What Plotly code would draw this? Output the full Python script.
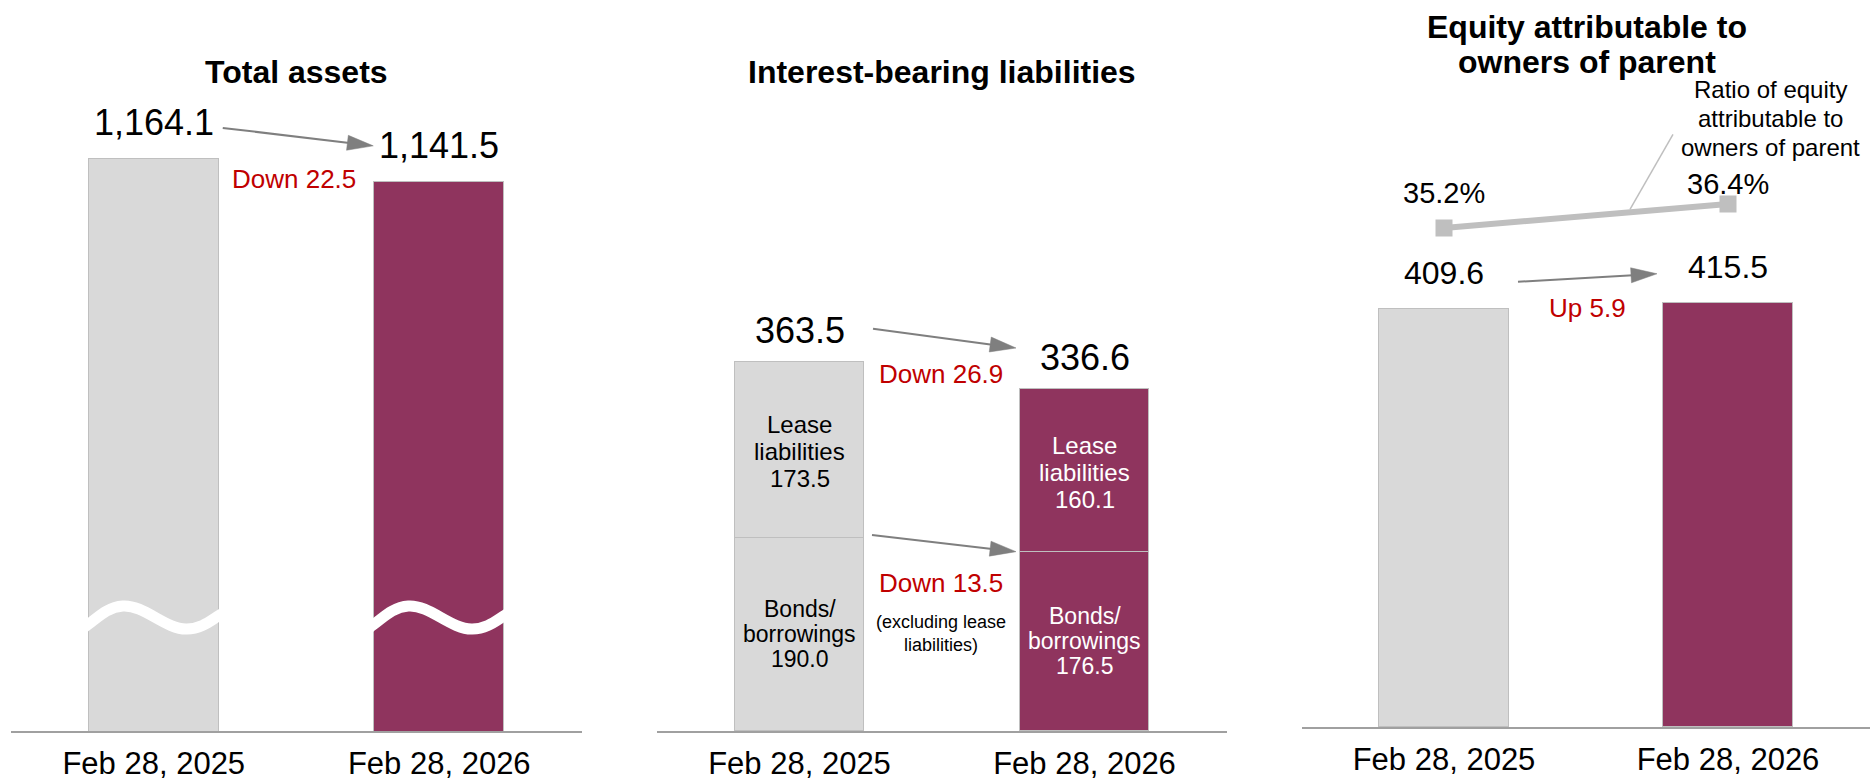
import math
import plotly.graph_objects as go

W, H = 1870, 783
FONT = "Liberation Sans, Arial, Helvetica, sans-serif"

# ---------------- data ----------------
dates = ["Feb 28, 2025", "Feb 28, 2026"]
total_assets = [1164.1, 1141.5]
total_assets_text = ["1,164.1", "1,141.5"]
bonds_borrowings = [190.0, 176.5]
lease_liabilities = [173.5, 160.1]
interest_bearing = [363.5, 336.6]
equity_parent = [409.6, 415.5]
equity_ratio = [35.2, 36.4]

panel_titles = [["Total assets"], ["Interest-bearing liabilities"],
                ["Equity attributable to", "owners of parent"]]
change_texts = ["Down 22.5", "Down 26.9", "Down 13.5", "Up 5.9"]
bonds_note = ["(excluding lease", "liabilities)"]
lease_label = ["Lease", "liabilities"]
bonds_label = ["Bonds/", "borrowings"]
ratio_label = ["Ratio of equity", "attributable to", "owners of parent"]

# ---------------- style ----------------
GREY = "#D9D9D9"
MAROON = "#8F345E"
EDGE = "#BFBFBF"
AXIS = "#A0A0A0"
ARROW = "#7F7F7F"
RED = "#C00000"
RATIO = "#BFBFBF"
bar_colors = [GREY, MAROON]
inside_colors = ["#000000", "#FFFFFF"]
BAR_W = 0.455

geo = {
    1: dict(x0=11, x1=582, yb=731, yr=(601.0, 601.0 + 731 / 1.016)),
    2: dict(x0=657, x1=1227, yb=731, yr=(0.0, 731 / 1.016)),
    3: dict(x0=1302, x1=1870, yb=727, yr=(0.0, 727 / 1.021)),
}
XR = (-0.5, 1.5)
RATIO_RANGE = (10.25, 46.6)


def xpx(p, v):
    g = geo[p]
    return g["x0"] + (v - XR[0]) / (XR[1] - XR[0]) * (g["x1"] - g["x0"])


def px2x(p, px):
    g = geo[p]
    return XR[0] + (px - g["x0"]) / (g["x1"] - g["x0"]) * (XR[1] - XR[0])


def ypx(p, v, yr=None):
    g = geo[p]
    yr = yr or g["yr"]
    return g["yb"] - (v - yr[0]) / (yr[1] - yr[0]) * g["yb"]


def px2y(p, py, yr=None):
    g = geo[p]
    yr = yr or g["yr"]
    return yr[0] + (g["yb"] - py) / g["yb"] * (yr[1] - yr[0])


def axn(p):
    return ("x" if p == 1 else f"x{p}"), ("y" if p == 1 else f"y{p}")


fig = go.Figure()
annotations = []
shapes = []


def text(px, py, s, size, color="#000000"):
    annotations.append(dict(
        x=px / W, y=1 - py / H, xref="paper", yref="paper", text=s,
        showarrow=False, xanchor="center", yanchor="middle",
        font=dict(size=size, color=color, family=FONT)))


def arrow(p, tail, tip, head_len=26, head_half=7.5):
    xa, ya = axn(p)
    dx, dy = tip[0] - tail[0], tip[1] - tail[1]
    L = math.hypot(dx, dy)
    ux, uy = dx / L, dy / L
    nx, ny = -uy, ux
    bx, by = tip[0] - ux * head_len, tip[1] - uy * head_len
    fig.add_trace(go.Scatter(
        x=[px2x(p, tail[0]), px2x(p, bx + ux * 2)],
        y=[px2y(p, tail[1]), px2y(p, by + uy * 2)],
        mode="lines", line=dict(color=ARROW, width=2),
        xaxis=xa, yaxis=ya, hoverinfo="skip"))
    pts = [(tip[0], tip[1]), (bx + nx * head_half, by + ny * head_half),
           (bx - nx * head_half, by - ny * head_half), (tip[0], tip[1])]
    fig.add_trace(go.Scatter(
        x=[px2x(p, a) for a, b in pts], y=[px2y(p, b) for a, b in pts],
        mode="lines", fill="toself", fillcolor=ARROW,
        line=dict(color=ARROW, width=0.5),
        xaxis=xa, yaxis=ya, hoverinfo="skip"))


# ---------------- Panel 1: Total assets ----------------
fig.add_trace(go.Bar(
    x=[0, 1], y=total_assets, width=BAR_W,
    marker=dict(color=bar_colors, line=dict(color=EDGE, width=1.5)),
    xaxis="x", yaxis="y", hoverinfo="skip"))

# break (wave) markers, pixel offsets from bar's left edge / break height
WAVE_Y = 617
wave_offsets = [(-6, 12), (0, 7), (34, -11), (98, 12), (131, -2), (140, -9)]
bar_px_w = BAR_W * (geo[1]["x1"] - geo[1]["x0"]) / (XR[1] - XR[0])
for i in range(2):
    left = xpx(1, i) - bar_px_w / 2
    fig.add_trace(go.Scatter(
        x=[px2x(1, left + dx) for dx, dy in wave_offsets],
        y=[px2y(1, WAVE_Y + dy) for dx, dy in wave_offsets],
        mode="lines",
        line=dict(color="white", width=11, shape="spline", smoothing=1.2),
        xaxis="x", yaxis="y", hoverinfo="skip"))

for i in range(2):
    text(xpx(1, i), ypx(1, total_assets[i]) - 36, total_assets_text[i], 36)

arrow(1, (xpx(1, 0) + 69, ypx(1, total_assets[0]) - 31),
      (xpx(1, 1) - 66, ypx(1, total_assets[1]) - 36))
text((xpx(1, 0) + xpx(1, 1)) / 2 - 3, ypx(1, total_assets[1]) - 3,
     change_texts[0], 26, RED)

# ---------------- Panel 2: Interest-bearing liabilities ----------------
fig.add_trace(go.Bar(
    x=[0, 1], y=bonds_borrowings, width=BAR_W,
    marker=dict(color=bar_colors, line=dict(color=EDGE, width=1.5)),
    xaxis="x2", yaxis="y2", hoverinfo="skip"))
fig.add_trace(go.Bar(
    x=[0, 1], y=lease_liabilities, width=BAR_W,
    marker=dict(color=bar_colors, line=dict(color=EDGE, width=1.5)),
    xaxis="x2", yaxis="y2", hoverinfo="skip"))

for i in range(2):
    cx = xpx(2, i)
    text(cx, ypx(2, interest_bearing[i]) - 31.5, f"{interest_bearing[i]:.1f}", 36)
    # lease segment label
    cy = ypx(2, bonds_borrowings[i] + lease_liabilities[i] / 2) + 2
    lines = lease_label + [f"{lease_liabilities[i]:.1f}"]
    for k, s in enumerate(lines):
        text(cx, cy + (k - 1) * 27, s, 24, inside_colors[i])
    # bonds segment label
    cy = ypx(2, bonds_borrowings[i] / 2)
    lines = bonds_label + [f"{bonds_borrowings[i]:.1f}"]
    for k, s in enumerate(lines):
        text(cx, cy + (k - 1) * 25, s, 23, inside_colors[i])

arrow(2, (xpx(2, 0) + 73.5, ypx(2, interest_bearing[0]) - 33),
      (xpx(2, 1) - 68.5, ypx(2, interest_bearing[1]) - 41))
arrow(2, (xpx(2, 0) + 72.5, ypx(2, bonds_borrowings[0]) - 3),
      (xpx(2, 1) - 68.5, ypx(2, bonds_borrowings[1])))
mid2 = (xpx(2, 0) + xpx(2, 1)) / 2 - 1
text(mid2, ypx(2, interest_bearing[1]) - 15, change_texts[1], 26, RED)
text(mid2, ypx(2, bonds_borrowings[1]) + 31, change_texts[2], 26, RED)
for k, s in enumerate(bonds_note):
    text(mid2, ypx(2, bonds_borrowings[1]) + 70 + k * 23, s, 18)

# ---------------- Panel 3: Equity ----------------
fig.add_trace(go.Bar(
    x=[0, 1], y=equity_parent, width=BAR_W,
    marker=dict(color=bar_colors, line=dict(color=EDGE, width=1.5)),
    xaxis="x3", yaxis="y3", hoverinfo="skip"))
fig.add_trace(go.Scatter(
    x=[0, 1], y=equity_ratio, mode="lines+markers",
    line=dict(color=RATIO, width=6),
    marker=dict(symbol="square", size=17, color=RATIO),
    xaxis="x3", yaxis="y4", hoverinfo="skip"))

for i in range(2):
    text(xpx(3, i), ypx(3, equity_parent[i]) - 35.5, f"{equity_parent[i]:.1f}", 32)
ratio_shift = [35, 20]
for i in range(2):
    text(xpx(3, i), ypx(3, equity_ratio[i], RATIO_RANGE) - ratio_shift[i],
         f"{equity_ratio[i]:.1f}%", 29)

arrow(3, (xpx(3, 0) + 74, ypx(3, equity_parent[0]) - 27),
      (xpx(3, 1) - 71, ypx(3, equity_parent[1]) - 29))
text((xpx(3, 0) + xpx(3, 1)) / 2 + 1, ypx(3, equity_parent[1]) + 5,
     change_texts[3], 26, RED)

# callout for ratio line
lead_x = 1630
t = px2x(3, lead_x)
lead_y = ypx(3, equity_ratio[0] + (equity_ratio[1] - equity_ratio[0]) * t, RATIO_RANGE)
shapes.append(dict(type="line", xref="paper", yref="paper",
                   x0=lead_x / W, y0=1 - (lead_y - 3) / H,
                   x1=(lead_x + 43) / W, y1=1 - (lead_y - 78) / H,
                   line=dict(color=RATIO, width=1.5)))
r1y = ypx(3, equity_ratio[1], RATIO_RANGE)
for k, s in enumerate(ratio_label):
    text(xpx(3, 1) + 42, r1y - 115 + k * 29, s, 24)

# ---------------- titles ----------------
for p, lines in zip([1, 2, 3], panel_titles):
    cx = (geo[p]["x0"] + geo[p]["x1"]) / 2
    if len(lines) == 1:
        text(cx, 72, f"<b>{lines[0]}</b>", 32)
    else:
        text(cx + 1, 27, f"<b>{lines[0]}</b>", 32)
        text(cx + 1, 62, f"<b>{lines[1]}</b>", 32)

# ---------------- layout ----------------
def xaxis_cfg(p):
    g = geo[p]
    return dict(domain=[g["x0"] / W, g["x1"] / W], range=list(XR),
                showline=True, linecolor=AXIS, linewidth=2,
                tickvals=[0, 1], ticktext=dates, ticks="",
                ticklabelstandoff=4, automargin=False,
                tickfont=dict(size=31, color="#000000", family=FONT),
                showgrid=False, zeroline=False, fixedrange=True,
                anchor=axn(p)[1])


def yaxis_cfg(p):
    g = geo[p]
    return dict(domain=[(H - g["yb"]) / H, 1], range=list(g["yr"]),
                visible=False, showgrid=False, zeroline=False,
                automargin=False, fixedrange=True, anchor=axn(p)[0])


fig.update_layout(
    width=W, height=H, margin=dict(l=0, r=0, t=0, b=0, autoexpand=False),
    paper_bgcolor="white", plot_bgcolor="rgba(0,0,0,0)",
    showlegend=False, barmode="stack", bargap=0,
    font=dict(family=FONT, color="#000000"),
    xaxis=xaxis_cfg(1), yaxis=yaxis_cfg(1),
    xaxis2=xaxis_cfg(2), yaxis2=yaxis_cfg(2),
    xaxis3=xaxis_cfg(3), yaxis3=yaxis_cfg(3),
    yaxis4=dict(overlaying="y3", range=list(RATIO_RANGE), visible=False,
                anchor="x3", fixedrange=True, automargin=False),
    annotations=annotations, shapes=shapes,
)

fig.write_html("out.html", config={"displayModeBar": False})
